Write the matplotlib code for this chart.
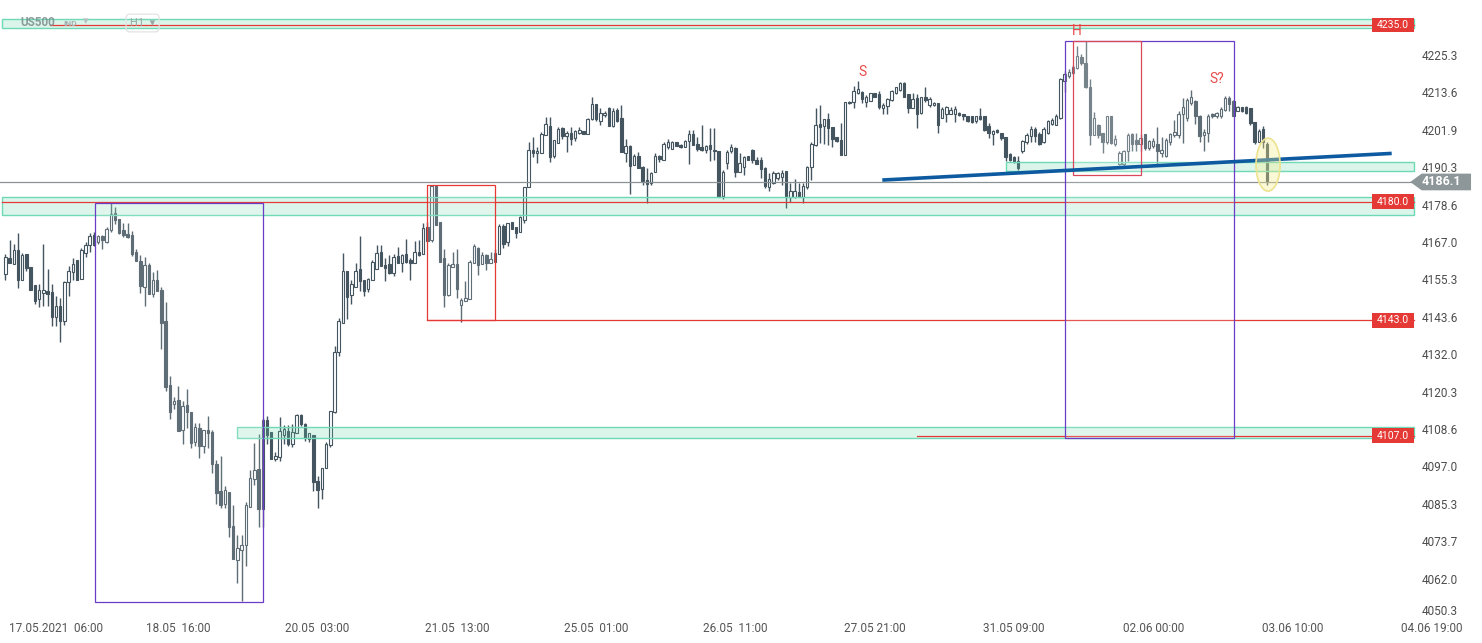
import numpy as np
import matplotlib
matplotlib.use('Agg')
import matplotlib.pyplot as plt
from matplotlib.patches import Rectangle, Ellipse, Polygon

# ── US500 H1 candles (17.05 - 03.06.2021) ─────────────────────
opens = [
    4157.3, 4162.3, 4160.4, 4164.9, 4155.4, 4163.8, 4159.5, 4154.0, 4149.5, 4151.4,
    4152.0, 4151.8, 4143.9, 4147.4, 4142.9, 4154.8, 4158.2, 4161.7, 4156.0, 4164.1,
    4166.6, 4169.7, 4167.3, 4169.2, 4167.5, 4171.0, 4176.3, 4174.7, 4171.1, 4169.9,
    4169.5, 4164.2, 4161.4, 4153.4, 4160.2, 4151.3, 4155.7, 4152.3, 4142.7, 4122.8,
    4117.0, 4118.1, 4108.9, 4116.6, 4114.4, 4105.2, 4109.3, 4103.8, 4108.7, 4108.1,
    4098.1, 4089.8, 4085.7, 4089.5, 4078.9, 4068.2, 4071.3, 4072.9, 4084.9, 4093.4,
    4096.6, 4084.1, 4111.8, 4108.1, 4099.9, 4100.3, 4107.4, 4108.5, 4104.6, 4108.0,
    4113.5, 4110.6, 4105.9, 4107.4, 4092.9, 4090.5, 4097.1, 4104.1, 4114.5, 4133.2,
    4142.3, 4158.5, 4151.0, 4153.4, 4158.9, 4155.4, 4152.6, 4155.7, 4159.1, 4164.4,
    4160.2, 4160.5, 4157.8, 4163.0, 4160.9, 4163.6, 4161.7, 4160.7, 4164.4, 4163.8,
    4172.1, 4168.0, 4184.8, 4173.6, 4162.3, 4151.0, 4159.7, 4160.5, 4147.9, 4148.9,
    4149.6, 4161.0, 4165.4, 4160.5, 4163.3, 4160.7, 4161.3, 4163.8, 4172.5, 4167.4,
    4173.5, 4172.0, 4170.6, 4174.3, 4184.6, 4196.2, 4195.0, 4195.0, 4200.6, 4203.5,
    4194.2, 4198.3, 4203.0, 4200.4, 4201.4, 4199.9, 4201.4, 4202.1, 4201.2, 4205.6,
    4210.3, 4205.1, 4206.9, 4209.3, 4203.6, 4208.5, 4205.9, 4195.2, 4197.3, 4191.5,
    4194.3, 4190.8, 4186.7, 4185.7, 4189.3, 4194.3, 4193.0, 4196.9, 4196.4, 4198.4,
    4197.6, 4196.9, 4199.0, 4201.1, 4197.9, 4197.1, 4196.1, 4197.5, 4196.1, 4195.9,
    4181.7, 4191.9, 4195.6, 4196.6, 4189.3, 4190.9, 4194.2, 4196.1, 4193.0, 4192.8,
    4190.6, 4184.4, 4185.7, 4187.3, 4187.6, 4189.5, 4181.3, 4181.3, 4183.1, 4181.3,
    4184.4, 4190.7, 4197.6, 4204.2, 4203.6, 4205.7, 4203.3, 4200.2, 4199.2, 4194.5,
    4211.1, 4210.9, 4213.9, 4214.2, 4211.1, 4211.4, 4213.7, 4213.5, 4209.1, 4209.8,
    4211.7, 4213.9, 4214.8, 4216.8, 4213.5, 4209.1, 4212.2, 4207.5, 4212.5, 4210.1,
    4210.0, 4210.6, 4206.0, 4207.3, 4207.3, 4207.3, 4207.7, 4207.3, 4206.7, 4206.5,
    4205.1, 4206.8, 4206.5, 4203.4, 4201.0, 4202.3, 4201.5, 4200.0, 4194.8, 4194.0,
    4192.5, 4195.6, 4198.5, 4200.3, 4202.7, 4201.0, 4198.5, 4201.3, 4204.1, 4203.9,
    4206.0, 4217.6, 4219.0, 4220.0, 4221.6, 4224.9, 4223.1, 4215.8, 4200.6, 4203.7,
    4201.3, 4198.5, 4206.5, 4197.9, 4191.6, 4191.6, 4195.6, 4201.0, 4199.2, 4197.9,
    4201.0, 4196.6, 4197.2, 4197.9, 4195.1, 4194.3, 4198.7, 4200.6, 4200.6, 4207.2,
    4206.0, 4210.6, 4211.4, 4206.8, 4200.6, 4201.3, 4207.2, 4206.5, 4206.5, 4208.6,
    4212.4, 4211.4, 4208.3, 4209.6, 4209.6, 4209.1, 4204.9, 4198.7, 4202.6, 4197.9,
]
highs = [
    4163.8, 4168.0, 4166.7, 4170.3, 4164.1, 4163.8, 4159.5, 4154.0, 4154.2, 4166.7,
    4159.0, 4154.2, 4150.6, 4150.0, 4155.3, 4160.0, 4162.4, 4161.7, 4165.4, 4167.5,
    4170.1, 4170.4, 4169.5, 4169.5, 4172.1, 4179.4, 4178.2, 4174.7, 4173.2, 4173.2,
    4170.9, 4165.2, 4163.3, 4162.6, 4160.7, 4157.9, 4158.6, 4153.4, 4148.6, 4125.6,
    4119.2, 4122.5, 4117.8, 4121.6, 4114.4, 4111.1, 4110.9, 4108.7, 4113.2, 4108.7,
    4099.4, 4100.7, 4091.3, 4089.5, 4085.4, 4076.1, 4076.1, 4086.4, 4096.3, 4104.7,
    4107.5, 4112.4, 4113.2, 4108.1, 4102.0, 4112.8, 4110.3, 4110.3, 4110.6, 4113.9,
    4113.8, 4110.9, 4107.8, 4107.4, 4094.5, 4097.1, 4105.2, 4114.8, 4134.9, 4143.6,
    4164.1, 4158.5, 4155.5, 4160.9, 4169.2, 4155.4, 4156.2, 4161.7, 4166.4, 4166.4,
    4162.3, 4163.3, 4163.8, 4165.7, 4163.8, 4168.3, 4162.3, 4167.7, 4168.0, 4173.2,
    4173.7, 4185.1, 4185.1, 4173.6, 4165.2, 4160.9, 4164.2, 4165.1, 4150.1, 4155.2,
    4161.8, 4166.9, 4165.9, 4164.3, 4163.8, 4164.4, 4165.1, 4173.0, 4173.0, 4173.4,
    4173.7, 4172.0, 4175.4, 4184.4, 4198.4, 4200.0, 4197.0, 4201.7, 4206.2, 4206.2,
    4199.3, 4203.1, 4203.3, 4202.0, 4203.3, 4202.4, 4203.3, 4202.1, 4205.9, 4212.6,
    4210.3, 4209.3, 4208.3, 4209.5, 4209.0, 4209.3, 4210.0, 4199.6, 4197.6, 4194.8,
    4195.5, 4191.0, 4190.3, 4189.3, 4195.0, 4194.5, 4198.4, 4199.4, 4199.0, 4198.7,
    4197.8, 4199.1, 4202.3, 4202.3, 4200.0, 4203.9, 4197.6, 4202.8, 4202.8, 4195.9,
    4189.8, 4196.1, 4197.9, 4196.9, 4195.0, 4194.2, 4194.2, 4196.3, 4193.8, 4193.8,
    4190.7, 4188.8, 4189.5, 4189.3, 4189.8, 4189.6, 4185.9, 4186.9, 4185.7, 4185.7,
    4191.1, 4198.4, 4209.1, 4210.1, 4205.6, 4207.5, 4203.3, 4200.2, 4204.4, 4211.1,
    4211.3, 4216.0, 4217.7, 4214.6, 4213.2, 4213.9, 4213.9, 4214.6, 4210.6, 4212.2,
    4214.8, 4215.8, 4217.1, 4217.1, 4213.5, 4213.9, 4213.5, 4212.7, 4215.6, 4212.7,
    4211.0, 4210.6, 4209.6, 4209.8, 4209.6, 4209.8, 4208.0, 4207.3, 4206.7, 4206.8,
    4206.8, 4209.3, 4206.5, 4204.4, 4202.3, 4202.7, 4201.5, 4200.0, 4195.1, 4194.3,
    4194.3, 4199.2, 4201.3, 4203.4, 4203.1, 4201.6, 4203.1, 4205.5, 4206.0, 4207.2,
    4218.4, 4220.7, 4221.3, 4222.4, 4228.6, 4225.9, 4230.1, 4218.2, 4207.9, 4204.1,
    4201.3, 4206.5, 4206.5, 4200.8, 4195.6, 4196.1, 4201.3, 4201.3, 4201.3, 4201.0,
    4201.0, 4199.2, 4199.8, 4203.1, 4200.0, 4199.7, 4201.3, 4205.5, 4208.1, 4212.2,
    4212.2, 4214.8, 4211.7, 4207.0, 4202.6, 4207.2, 4207.5, 4207.8, 4209.6, 4213.0,
    4213.0, 4211.7, 4209.9, 4209.6, 4209.9, 4209.3, 4204.9, 4202.6, 4203.4, 4198.7,
]
lows = [
    4155.7, 4160.7, 4160.4, 4153.1, 4155.4, 4158.4, 4152.5, 4148.2, 4147.2, 4147.4,
    4147.4, 4141.3, 4141.3, 4136.3, 4141.6, 4150.6, 4155.4, 4155.7, 4156.0, 4162.8,
    4164.3, 4166.2, 4166.9, 4165.3, 4167.2, 4170.6, 4172.9, 4170.0, 4168.9, 4168.5,
    4163.0, 4161.5, 4151.6, 4147.5, 4151.3, 4150.3, 4152.2, 4134.2, 4120.9, 4112.1,
    4115.5, 4108.6, 4104.6, 4109.3, 4103.1, 4103.7, 4100.2, 4101.8, 4103.1, 4095.3,
    4085.7, 4084.4, 4084.4, 4075.6, 4068.5, 4061.0, 4055.5, 4066.5, 4084.9, 4091.7,
    4078.5, 4078.5, 4104.3, 4099.7, 4099.2, 4099.2, 4104.3, 4103.9, 4103.4, 4107.8,
    4110.1, 4105.5, 4105.2, 4089.9, 4084.4, 4087.4, 4096.9, 4103.6, 4114.2, 4132.0,
    4142.3, 4143.5, 4148.2, 4153.4, 4152.2, 4150.6, 4151.8, 4155.5, 4159.1, 4160.0,
    4155.3, 4157.3, 4156.9, 4160.7, 4158.1, 4160.7, 4155.5, 4160.7, 4163.1, 4163.8,
    4167.8, 4167.5, 4172.7, 4161.3, 4147.0, 4150.7, 4159.7, 4149.8, 4142.5, 4148.9,
    4149.6, 4161.0, 4157.1, 4160.5, 4158.6, 4160.7, 4161.1, 4163.8, 4165.6, 4166.2,
    4171.5, 4168.5, 4170.6, 4173.4, 4184.6, 4193.9, 4192.1, 4195.0, 4200.6, 4192.4,
    4193.5, 4198.3, 4199.6, 4195.5, 4197.6, 4198.9, 4201.2, 4200.9, 4201.2, 4205.4,
    4205.1, 4203.8, 4206.2, 4203.6, 4203.1, 4204.8, 4195.5, 4192.4, 4182.5, 4191.5,
    4190.6, 4185.1, 4179.4, 4185.2, 4189.3, 4192.4, 4193.0, 4196.4, 4196.4, 4197.4,
    4196.7, 4196.9, 4191.6, 4197.6, 4195.6, 4195.6, 4195.2, 4192.6, 4192.8, 4181.5,
    4180.7, 4190.1, 4195.2, 4187.6, 4189.3, 4188.3, 4192.8, 4192.1, 4191.7, 4187.3,
    4184.1, 4183.4, 4185.5, 4186.7, 4185.2, 4177.9, 4180.0, 4181.0, 4181.3, 4179.7,
    4183.8, 4186.7, 4197.3, 4198.2, 4197.9, 4197.6, 4197.1, 4198.4, 4194.5, 4194.5,
    4210.4, 4209.1, 4213.5, 4210.6, 4209.6, 4211.4, 4212.5, 4208.7, 4207.3, 4207.3,
    4211.4, 4213.5, 4214.6, 4212.7, 4207.7, 4209.1, 4202.8, 4207.3, 4211.1, 4209.4,
    4209.7, 4201.3, 4206.0, 4204.9, 4207.3, 4204.9, 4206.5, 4205.4, 4204.9, 4204.4,
    4204.6, 4205.5, 4202.0, 4199.8, 4197.7, 4201.3, 4199.2, 4192.5, 4192.7, 4192.0,
    4189.9, 4195.1, 4197.9, 4198.7, 4198.7, 4197.5, 4198.2, 4201.0, 4203.7, 4203.7,
    4205.8, 4214.1, 4218.6, 4219.7, 4221.3, 4222.6, 4215.5, 4197.7, 4200.6, 4199.8,
    4195.1, 4197.9, 4197.9, 4197.2, 4191.4, 4190.9, 4192.7, 4195.6, 4195.6, 4195.6,
    4196.1, 4196.1, 4196.6, 4191.4, 4194.0, 4194.0, 4197.5, 4200.0, 4199.7, 4198.2,
    4205.0, 4210.1, 4204.1, 4198.5, 4195.8, 4198.5, 4206.0, 4206.0, 4206.0, 4208.3,
    4208.3, 4206.5, 4208.1, 4207.8, 4207.2, 4203.9, 4197.9, 4198.5, 4196.6, 4185.2,
]
closes = [
    4162.6, 4161.0, 4164.9, 4155.4, 4163.5, 4159.2, 4152.5, 4149.1, 4152.3, 4152.3,
    4151.3, 4144.1, 4147.6, 4142.9, 4154.8, 4158.5, 4160.4, 4155.7, 4164.9, 4166.6,
    4169.4, 4166.4, 4169.2, 4168.0, 4171.4, 4176.0, 4174.4, 4170.2, 4169.5, 4168.9,
    4163.6, 4161.5, 4153.8, 4160.2, 4151.3, 4155.5, 4152.2, 4142.2, 4122.3, 4114.5,
    4117.8, 4108.6, 4116.3, 4114.5, 4104.8, 4109.6, 4103.9, 4108.7, 4107.8, 4098.1,
    4089.1, 4085.6, 4090.0, 4078.5, 4068.5, 4071.9, 4072.9, 4085.3, 4094.0, 4096.2,
    4084.3, 4111.8, 4107.4, 4099.7, 4100.6, 4108.4, 4109.0, 4104.3, 4108.3, 4113.5,
    4110.6, 4106.2, 4107.8, 4092.7, 4090.2, 4097.1, 4104.6, 4114.8, 4133.2, 4142.7,
    4158.3, 4150.3, 4154.2, 4158.5, 4155.3, 4152.2, 4155.9, 4161.3, 4164.0, 4160.0,
    4159.4, 4157.8, 4162.6, 4160.7, 4163.3, 4161.1, 4160.7, 4164.4, 4163.4, 4171.8,
    4167.8, 4184.8, 4172.7, 4161.3, 4151.0, 4160.2, 4160.5, 4152.6, 4149.3, 4149.8,
    4161.3, 4166.1, 4160.3, 4163.2, 4160.9, 4162.0, 4164.1, 4172.5, 4166.8, 4173.2,
    4171.5, 4170.3, 4175.1, 4184.4, 4196.2, 4195.0, 4195.9, 4201.0, 4204.1, 4193.9,
    4199.3, 4202.7, 4200.4, 4201.4, 4199.6, 4202.0, 4202.4, 4200.9, 4205.6, 4210.3,
    4205.6, 4207.6, 4207.7, 4203.6, 4208.3, 4205.1, 4195.5, 4197.3, 4191.1, 4194.1,
    4190.6, 4186.5, 4185.6, 4189.0, 4194.2, 4193.2, 4197.9, 4198.4, 4198.4, 4197.4,
    4196.9, 4198.9, 4201.1, 4197.6, 4196.4, 4196.1, 4197.3, 4196.4, 4195.6, 4181.5,
    4189.3, 4195.4, 4196.9, 4189.3, 4191.9, 4193.8, 4192.8, 4192.8, 4191.7, 4190.1,
    4184.7, 4186.9, 4188.8, 4188.8, 4189.0, 4181.3, 4183.4, 4183.4, 4181.3, 4184.9,
    4190.9, 4197.9, 4203.9, 4203.3, 4205.6, 4202.8, 4199.4, 4198.9, 4194.5, 4211.1,
    4210.6, 4214.6, 4215.0, 4211.9, 4212.5, 4213.9, 4212.5, 4209.4, 4210.1, 4211.9,
    4214.6, 4215.6, 4216.8, 4212.7, 4209.1, 4211.9, 4207.3, 4212.5, 4211.7, 4211.9,
    4210.6, 4203.9, 4208.7, 4209.4, 4208.5, 4208.7, 4207.0, 4206.5, 4205.2, 4204.9,
    4206.5, 4205.8, 4202.3, 4201.3, 4202.0, 4201.6, 4199.8, 4194.0, 4193.0, 4192.7,
    4190.4, 4198.9, 4200.8, 4202.7, 4200.3, 4197.9, 4202.7, 4205.1, 4205.5, 4206.5,
    4218.2, 4219.7, 4220.5, 4221.8, 4225.5, 4223.1, 4215.8, 4200.8, 4206.0, 4200.6,
    4198.5, 4206.5, 4198.2, 4199.5, 4195.1, 4195.8, 4200.8, 4197.9, 4197.9, 4199.7,
    4196.8, 4198.9, 4198.9, 4195.8, 4196.1, 4199.2, 4201.0, 4201.8, 4207.2, 4209.6,
    4211.7, 4212.7, 4206.5, 4200.3, 4201.8, 4206.8, 4206.5, 4207.5, 4208.9, 4212.4,
    4210.3, 4206.8, 4209.6, 4208.1, 4207.5, 4204.4, 4198.5, 4202.0, 4198.7, 4186.1,
]

last_price = 4186.1
price_ticks = [4050.3, 4062.0, 4073.7, 4085.3, 4097.0, 4108.6, 4120.3, 4132.0,
               4143.6, 4155.3, 4167.0, 4178.6, 4190.3, 4201.9, 4213.6, 4225.3]
time_labels = ['17.05.2021  06:00', '18.05  16:00', '20.05  03:00', '21.05  13:00',
               '25.05  01:00', '26.05  11:00', '27.05 21:00', '31.05 09:00',
               '02.06 00:00', '03.06 10:00', '04.06 19:00']
time_bars = [12, 41, 74, 107, 140, 173, 206, 239, 272, 305, 338]

# support / resistance levels (price, bar where the line starts)
levels = [(4235.0, 10.6), (4180.0, -0.8), (4143.0, 99.9), (4107.0, 216.0)]
# zones (low, high, start bar)
zones = [(4234.0, 4236.8, -0.8), (4175.8, 4181.4, -0.8),
         (4189.6, 4192.2, 237.1), (4106.2, 4109.7, 54.9)]

# ── colours ──────────────────────────────────────────────────
candle_col = '#44555f'
red = '#e53935'
purple = '#6a3dc6'
mint_edge = '#6fd8b4'
mint_fill = (0.37, 0.83, 0.66, 0.22)
right_bar = 333.8   # right edge of drawing area (in bars)

plt.rcParams['font.family'] = ['Roboto', 'DejaVu Sans']

fig = plt.figure(figsize=(14.82, 6.43), dpi=100)
ax = fig.add_axes([0, 25.2 / 643, 1, 617.8 / 643])
ax.set_xlim(-1.26, 349.9)
ax.set_ylim(4050.3, 4242.8)
for s in ax.spines.values():
    s.set_visible(False)
ax.set_yticks([])

# ── candles ──────────────────────────────────────────────────
o = np.array(opens); h = np.array(highs); l = np.array(lows); c = np.array(closes)
x = np.arange(len(c))
up = c >= o
lo = np.minimum(o, c)
hgt = np.maximum(np.abs(c - o), 0.25)
ax.vlines(x, l, h, color=candle_col, lw=1.0, zorder=2)
ax.bar(x[up], hgt[up], bottom=lo[up], width=0.58, facecolor='white',
       edgecolor=candle_col, lw=0.8, zorder=3)
ax.bar(x[~up], hgt[~up], bottom=lo[~up], width=0.58, facecolor=candle_col,
       edgecolor=candle_col, lw=0.8, zorder=3)

# ── zones & levels ───────────────────────────────────────────
for zlo, zhi, x0 in zones:
    ax.add_patch(Rectangle((x0, zlo), right_bar - x0, zhi - zlo, facecolor=mint_fill,
                           edgecolor=mint_edge, lw=1.0, zorder=4))
for price, x0 in levels:
    ax.plot([x0, right_bar], [price, price], color=red, lw=0.9, zorder=5)

ax.plot([-1.26, right_bar], [last_price, last_price], color='#8a9296', lw=0.9, zorder=4)

# ── pattern boxes ────────────────────────────────────────────
boxes = [((21.3, 4055.2), 39.8, 4179.4 - 4055.2, purple),
         ((251.1, 4106.3), 40.1, 4230.1 - 4106.3, purple),
         ((99.9, 4143.1), 16.1, 4185.05 - 4143.1, red),
         ((253.0, 4188.2), 16.1, 4230.1 - 4188.2, '#d9485a')]
for xy, w, bh, col in boxes:
    ax.add_patch(Rectangle(xy, w, bh, facecolor=(1, 1, 1, 0.15), edgecolor=col,
                           lw=0.9, zorder=6))

# neckline
ax.plot([207.8, 328.5], [4186.7, 4195.0], color='#0d5aa0', lw=2.6,
        solid_capstyle='butt', zorder=7)

# highlight on last candle
ax.add_patch(Ellipse((299.2, 4191.5), 5.7, 16.5, facecolor=(0.96, 0.92, 0.55, 0.35),
                     edgecolor='#ede28f', lw=1.2, zorder=8))

# head & shoulders labels
for txt, bx, py in [('S', 203.0, 4220.3), ('H', 253.9, 4233.1), ('S?', 287.1, 4218.2)]:
    ax.text(bx, py, txt, color='#e84a4a', fontsize=10, ha='center', va='center', zorder=9)

# ── price tags ───────────────────────────────────────────────
for price, _ in levels:
    ax.add_patch(Rectangle((323.9, price - 2.3), right_bar - 323.9, 4.6,
                           facecolor=red, edgecolor='none', zorder=9))
    ax.text((323.9 + right_bar) / 2, price, f'{price:.1f}', color='white',
            fontsize=7.5, ha='center', va='center', zorder=10)

ax.add_patch(Polygon([(332.9, last_price), (335.6, last_price + 2.6), (347.3, last_price + 2.6),
                      (347.3, last_price - 2.6), (335.6, last_price - 2.6)],
                     closed=True, facecolor='#8d9699', edgecolor='none', zorder=9))
ax.text(335.7, last_price, f'{last_price:.1f}', color='white', fontsize=9,
        fontweight='bold', ha='left', va='center', zorder=10)

# ── axis labels ──────────────────────────────────────────────
for p in price_ticks:
    ax.text(335.7, p, f'{p:.1f}', color='#4d4d4d', fontsize=8.5, ha='left',
            va='bottom' if p == price_ticks[0] else 'center')

ax.set_xticks(time_bars, time_labels)
ax.tick_params(axis='x', length=0, pad=3, labelsize=8.5, labelcolor='#555555')

# ── header ───────────────────────────────────────────────────
fig.text(20 / 1482, 1 - 23 / 643, 'US500', color='#7d8c8c', fontsize=8.5,
         fontweight='bold', va='center', alpha=0.85)
fig.text(63 / 1482, 1 - 23 / 643, 'IND', color='#a5b0b0', fontsize=6,
         fontweight='bold', va='center')
fig.text(83 / 1482, 1 - 21 / 643, '▾', color='#b5bfbf', fontsize=8,
         family='DejaVu Sans', va='center')
fig.text(130 / 1482, 1 - 23 / 643, 'H1  ▾', color='#9aa6a6', fontsize=8,
         family=['Roboto', 'DejaVu Sans'], va='center',
         bbox=dict(boxstyle='round,pad=0.35', fc='none', ec='#e3e3e3', lw=0.9))

plt.savefig('out.png', dpi=100, facecolor='white')
plt.close()
